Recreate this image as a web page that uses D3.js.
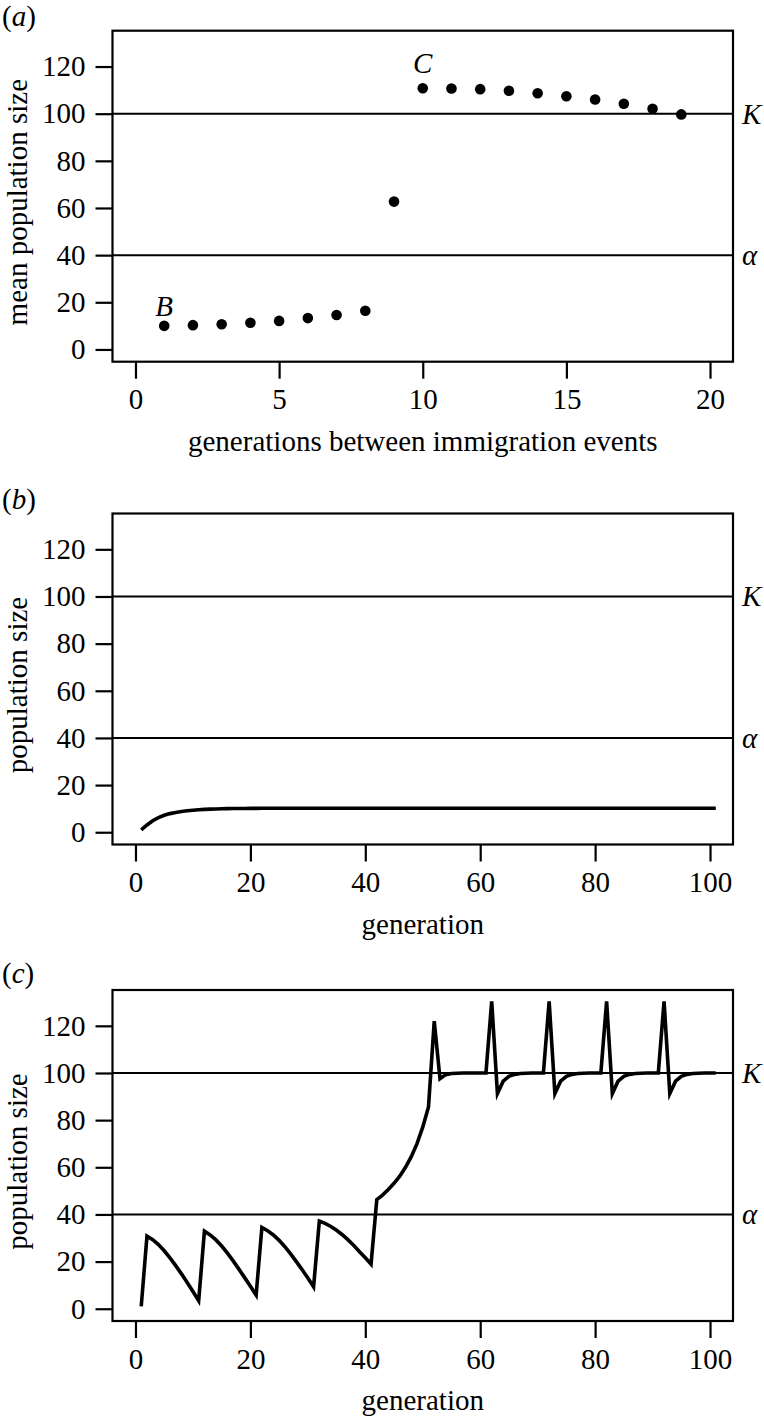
<!DOCTYPE html>
<html>
<head>
<meta charset="utf-8">
<script src="https://cdn.jsdelivr.net/npm/d3@7"></script>
<style>
  body { margin: 0; background: #fff; }
  svg { display: block; }
  svg text { font-family: "Liberation Serif", serif; }
</style>
</head>
<body>
<svg id="fig" width="764" height="1416" font-family="Liberation Serif, serif"></svg>
<script>
// (a) mean population size for each interval between immigration events
const intervals = [1, 2, 3, 4, 5, 6, 7, 8, 9, 10, 11, 12, 13, 14, 15, 16, 17, 18, 19];
const meanSize = [10.0, 10.3, 10.7, 11.3, 12.1, 13.3, 14.6, 16.4, 62.7,
  110.8, 110.7, 110.4, 109.7, 108.7, 107.4, 106.0, 104.2, 102.1, 99.7];

// (b) and (c) population size per generation
const generations = d3.range(1, 102);
const sizeB = [
  1.0, 3.1, 4.9, 6.2, 7.2, 7.9, 8.4, 8.8, 9.1, 9.35,
  9.55, 9.7, 9.8, 9.88, 9.95, 10.0, 10.04, 10.07, 10.1, 10.12,
  10.14, 10.15, 10.16, 10.17, 10.18, 10.18, 10.19, 10.19, 10.2, 10.2,
  10.2, 10.2, 10.2, 10.2, 10.2, 10.2, 10.2, 10.2, 10.2, 10.2,
  10.2, 10.2, 10.2, 10.2, 10.2, 10.2, 10.2, 10.2, 10.2, 10.2,
  10.2, 10.2, 10.2, 10.2, 10.2, 10.2, 10.2, 10.2, 10.2, 10.2,
  10.2, 10.2, 10.2, 10.2, 10.2, 10.2, 10.2, 10.2, 10.2, 10.2,
  10.2, 10.2, 10.2, 10.2, 10.2, 10.2, 10.2, 10.2, 10.2, 10.2,
  10.2, 10.2, 10.2, 10.2, 10.2, 10.2, 10.2, 10.2, 10.2, 10.2,
  10.2, 10.2, 10.2, 10.2, 10.2, 10.2, 10.2, 10.2, 10.2, 10.2,
  10.2
];
const sizeC = [
  1.0,
  30.8, 29.3, 27.2, 24.6, 21.6, 18.3, 14.8, 11.1, 7.3, 3.4,
  32.9, 31.3, 29.2, 26.6, 23.6, 20.3, 16.8, 13.2, 9.5, 5.8,
  34.5, 33.1, 31.3, 29.0, 26.3, 23.3, 20.0, 16.6, 13.0, 9.3,
  37.2, 36.2, 34.9, 33.3, 31.4, 29.2, 26.8, 24.2, 21.6, 18.9,
  46.3, 48.2, 50.6, 53.2, 56.2, 60.0, 64.5, 70.0, 77.0, 85.6,
  122.0, 97.6, 99.3, 99.8, 99.9, 100, 100, 100, 100, 100,
  130.4, 91.3, 96.5, 98.6, 99.4, 99.8, 99.9, 100, 100, 100,
  130.4, 91.3, 96.5, 98.6, 99.4, 99.8, 99.9, 100, 100, 100,
  130.4, 91.3, 96.5, 98.6, 99.4, 99.8, 99.9, 100, 100, 100,
  130.4, 91.3, 96.5, 98.6, 99.4, 99.8, 99.9, 100, 100, 100
];

// axes and reference lines
const yTicks = [0, 20, 40, 60, 80, 100, 120];
const xTicksA = [0, 5, 10, 15, 20];
const xTicksBC = [0, 20, 40, 60, 80, 100];
const refValues = [100, 40];
const refLabels = ['K', '\u03b1'];

// letters on panel (a)
const noteText = ['B', 'C'];
const noteX = [1, 10];
const noteY = [18.4, 121.4];

const svg = d3.select('#fig');
const left = 112.5, right = 733, boxH = 331;
const fontSize = 29;
const serif = '"Liberation Serif", serif';

function drawPanel(top, letter, letterY, xDomain, xTicks, xTitle, yTitle) {
  const bottom = top + boxH;
  const x = d3.scaleLinear().domain(xDomain).range([left, right]);
  const y = d3.scaleLinear().domain([-5.2, 135.2]).range([bottom, top]);

  const g = svg.append('g');

  // panel letter
  const t = g.append('text')
      .attr('x', 2).attr('y', letterY)
      .style('font-size', fontSize + 'px');
  t.append('tspan').text('(');
  t.append('tspan').style('font-style', 'italic').text(letter);
  t.append('tspan').text(')');

  // reference lines K and alpha
  refValues.forEach((v, i) => {
    g.append('line')
        .attr('x1', left).attr('x2', right)
        .attr('y1', y(v)).attr('y2', y(v))
        .attr('stroke', '#000').attr('stroke-width', 2);
    g.append('text')
        .attr('x', 742).attr('y', y(v) + 10)
        .style('font-size', fontSize + 'px')
        .style('font-style', 'italic')
        .text(refLabels[i]);
  });

  // axes
  const ya = g.append('g')
      .attr('transform', `translate(${left},0)`)
      .call(d3.axisLeft(y).tickValues(yTicks).tickSize(17).tickPadding(10));
  const xa = g.append('g')
      .attr('transform', `translate(0,${bottom})`)
      .call(d3.axisBottom(x).tickValues(xTicks).tickSize(17).tickPadding(10));
  [ya, xa].forEach(a => {
    a.attr('font-family', serif).attr('font-size', fontSize);
    a.select('.domain').remove();
    a.selectAll('line').attr('stroke', '#000').attr('stroke-width', 2.2);
    a.selectAll('text')
        .style('font-family', serif)
        .style('font-size', fontSize + 'px')
        .attr('fill', '#000');
  });

  // box
  g.append('rect')
      .attr('x', left).attr('y', top)
      .attr('width', right - left).attr('height', boxH)
      .attr('fill', 'none').attr('stroke', '#000').attr('stroke-width', 2.2);

  // titles
  g.append('text')
      .attr('x', (left + right) / 2).attr('y', bottom + 89)
      .style('text-anchor', 'middle')
      .style('font-size', fontSize + 'px')
      .text(xTitle);
  g.append('text')
      .attr('transform', `translate(27,${(top + bottom) / 2 + 6}) rotate(-90)`)
      .style('text-anchor', 'middle')
      .style('font-size', fontSize + 'px')
      .text(yTitle);

  return { g: g, x: x, y: y };
}

// (a)
const pa = drawPanel(30.7, 'a', 26, [-0.8, 20.8], xTicksA,
  'generations between immigration events', 'mean population size');
pa.g.selectAll('circle')
    .data(intervals)
    .enter()
    .append('circle')
    .attr('cx', (d) => pa.x(d))
    .attr('cy', (d, i) => pa.y(meanSize[i]))
    .attr('r', 5.3)
    .style('fill', '#000');
noteText.forEach((s, i) => {
  pa.g.append('text')
      .attr('x', pa.x(noteX[i])).attr('y', pa.y(noteY[i]) + 10)
      .style('text-anchor', 'middle')
      .style('font-size', fontSize + 'px')
      .style('font-style', 'italic')
      .text(s);
});

// (b)
const pb = drawPanel(513.5, 'b', 509, [-4, 104], xTicksBC, 'generation', 'population size');
pb.g.append('path')
    .datum(generations)
    .attr('d', d3.line().x(d => pb.x(d)).y((d, i) => pb.y(sizeB[i])))
    .attr('fill', 'none').attr('stroke', '#000').attr('stroke-width', 3.6);

// (c)
const pc = drawPanel(990, 'c', 983, [-4, 104], xTicksBC, 'generation', 'population size');
pc.g.append('path')
    .datum(generations)
    .attr('d', d3.line().x(d => pc.x(d)).y((d, i) => pc.y(sizeC[i])))
    .attr('fill', 'none').attr('stroke', '#000').attr('stroke-width', 3.6)
    .attr('stroke-miterlimit', 10);
</script>
</body>
</html>
